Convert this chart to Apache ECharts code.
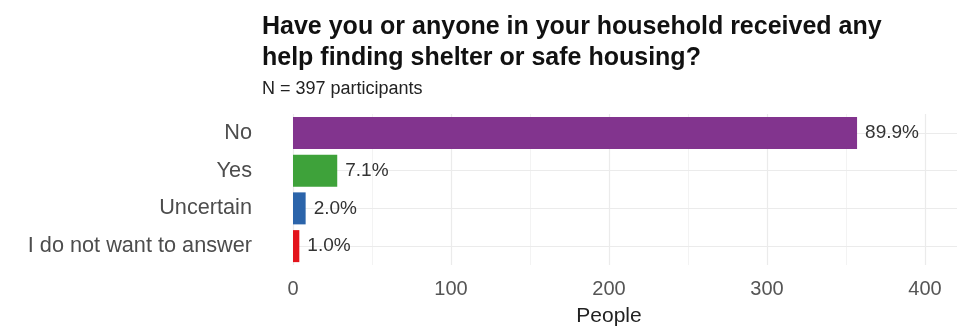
<!DOCTYPE html>
<html>
<head>
<meta charset="utf-8">
<script src="https://cdn.jsdelivr.net/npm/echarts@6/dist/echarts.min.js"></script>
<style>
html,body{margin:0;padding:0;background:#fff;}
#chart{width:957px;height:328px;}
</style>
</head>
<body>
<div id="chart"></div>
<script>
// Data
const categories = ['No', 'Yes', 'Uncertain', 'I do not want to answer'];
const people = [357, 28, 8, 4];
const percentLabels = ['89.9%', '7.1%', '2.0%', '1.0%'];
const barColors = ['#82348e', '#3ea23a', '#2b64aa', '#e3141c'];
const xTicks = [0, 100, 200, 300, 400];

const chart = echarts.init(document.getElementById('chart'), null, {renderer: 'canvas'});
const font = '"Liberation Sans", Arial, sans-serif';

chart.setOption({
  animation: false,
  backgroundColor: '#ffffff',
  title: [
    {
      text: 'Have you or anyone in your household received any\nhelp finding shelter or safe housing?',
      left: 257, top: 7,
      textStyle: {fontFamily: font, fontSize: 25, fontWeight: 'bold', color: '#111', lineHeight: 31}
    },
    {
      text: 'N = 397 participants',
      left: 257, top: 75,
      textStyle: {fontFamily: font, fontSize: 18, fontWeight: 'normal', color: '#222', lineHeight: 18}
    }
  ],
  grid: {left: 293, right: 32, top: 114, bottom: 63, containLabel: false},
  xAxis: {
    type: 'value',
    min: xTicks[0],
    max: xTicks[xTicks.length - 1],
    interval: 100,
    name: 'People',
    nameLocation: 'middle',
    nameGap: 41,
    nameTextStyle: {fontFamily: font, fontSize: 21, color: '#222'},
    axisLine: {show: false},
    axisTick: {show: false},
    axisLabel: {fontFamily: font, fontSize: 20, color: '#555', margin: 14},
    splitLine: {show: true, lineStyle: {color: '#ebebeb', width: 1.2}},
    minorTick: {show: false, splitNumber: 2},
    minorSplitLine: {show: true, lineStyle: {color: '#f3f3f3', width: 1}}
  },
  yAxis: {
    type: 'category',
    data: categories,
    inverse: true,
    offset: 31,
    axisLine: {show: false},
    axisTick: {show: true, alignWithLabel: true, inside: true, length: 695, lineStyle: {color: '#ebebeb', width: 1.2}},
    axisLabel: {fontFamily: font, fontSize: 21.7, color: '#4d4d4d', margin: 10},
    splitLine: {show: false}
  },
  series: [{
    type: 'bar',
    data: people.map((v, i) => ({value: v, itemStyle: {color: barColors[i]}})),
    barWidth: 32,
    z: 3,
    label: {
      show: true,
      position: 'right',
      distance: 8,
      fontFamily: font,
      fontSize: 19,
      color: '#333',
      formatter: p => percentLabels[p.dataIndex]
    }
  }]
});
</script>
</body>
</html>
